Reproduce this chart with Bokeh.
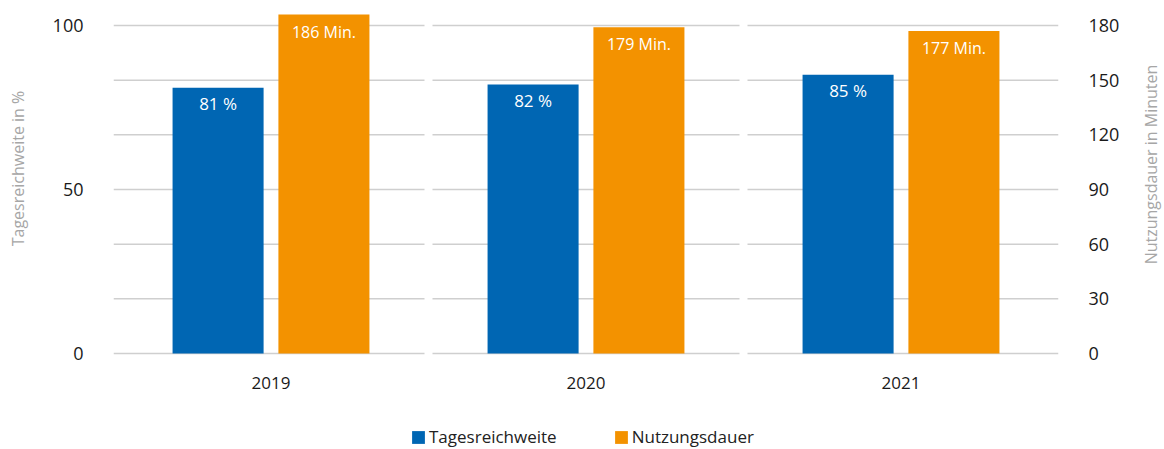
import math
from bokeh.plotting import figure
from bokeh.layouts import column, row
from bokeh.models import (Range1d, LinearAxis, FixedTicker, ColumnDataSource,
                          Legend, LegendItem, FactorRange)
from bokeh.transform import dodge
from bokeh.core.properties import value
from bokeh.embed import file_html
from bokeh.resources import INLINE

# ---- data ----
years = ["2019", "2020", "2021"]
reach = [81, 82, 85]            # Tagesreichweite in %
duration = [186, 179, 177]      # Nutzungsdauer in Minuten
left_ticks = [0, 50, 100]
right_ticks = [0, 30, 60, 90, 120, 150, 180]
left_title = "Tagesreichweite in %"
right_title = "Nutzungsdauer in Minuten"
series_names = ["Tagesreichweite", "Nutzungsdauer"]

FONT = "Open Sans"
BLUE = "#0066B3"
ORANGE = "#F39200"
GRID = "#cfcfcf"
TITLE_C = "#a6a6a6"

pct_lo, pct_hi = -0.915, 104.57
ratio = 1.8  # 100 % <-> 180 Min.

TOTAL_W = 1164
LW, RW = 32, 24
MW = TOTAL_W - LW - RW
MH, LH = 410, 39
BT, BB = 10, 54
FH = MH - BT - BB

p = figure(width=MW, height=MH,
           x_range=FactorRange(*years),
           y_range=Range1d(pct_lo, pct_hi),
           output_backend="svg", toolbar_location=None,
           min_border_left=81, min_border_right=82,
           min_border_top=BT, min_border_bottom=BB)
p.extra_y_ranges = {"min": Range1d(pct_lo * ratio, pct_hi * ratio)}
p.outline_line_color = None
p.xgrid.visible = False
p.ygrid.visible = False

# gridlines, broken at category boundaries
n = len(years)
g = 4 / 315
gx0, gx1, gy = [], [], []
for t in right_ticks:
    for i in range(n):
        gx0.append(i + (0 if i == 0 else g))
        gx1.append(i + 1 - (0 if i == n - 1 else g))
        gy.append(t)
p.segment(x0=gx0, y0=gy, x1=gx1, y1=gy, y_range_name="min",
          line_color=GRID, line_width=1.5)

src = ColumnDataSource(dict(
    year=years, reach=reach, duration=duration,
    reach_lbl=[f"{v} %" for v in reach],
    dur_lbl=[f"{v} Min." for v in duration],
))

off_b, off_o, w = -0.168, 0.168, 0.289
b1 = p.vbar(x=dodge("year", off_b, range=p.x_range), top="reach", width=w,
            source=src, fill_color=BLUE, line_color=None)
b2 = p.vbar(x=dodge("year", off_o, range=p.x_range), top="duration", width=w,
            source=src, fill_color=ORANGE, line_color=None, y_range_name="min")

p.text(x=dodge("year", off_b, range=p.x_range), y="reach", text="reach_lbl",
       source=src, text_align="center", text_baseline="middle", y_offset=16,
       text_color="white", text_font=value(FONT), text_font_size="17px")
p.text(x=dodge("year", off_o, range=p.x_range), y="duration", text="dur_lbl",
       source=src, text_align="center", text_baseline="middle", y_offset=17,
       text_color="white", text_font=value(FONT), text_font_size="16px",
       y_range_name="min")

def style_axis(ax, size):
    ax.axis_line_color = None
    ax.major_tick_line_color = None
    ax.minor_tick_line_color = None
    ax.major_label_text_font = FONT
    ax.major_label_text_font_size = size
    ax.major_label_text_color = "#1a1a1a"

yl = p.yaxis[0]
yl.ticker = FixedTicker(ticks=left_ticks)
style_axis(yl, "18px")
yl.major_label_standoff = 24

yr = LinearAxis(y_range_name="min", ticker=FixedTicker(ticks=right_ticks))
style_axis(yr, "18px")
yr.major_label_standoff = 24
p.add_layout(yr, "right")

xa = p.xaxis[0]
style_axis(xa, "17px")
xa.major_label_standoff = 14

# ---- side strips holding the rotated axis titles ----
def strip(width, title, x, y):
    s = figure(width=width, height=MH, x_range=Range1d(0, width),
               y_range=Range1d(0, FH), output_backend="svg",
               toolbar_location=None, x_axis_location=None,
               y_axis_location=None, min_border_left=0, min_border_right=0,
               min_border_top=BT, min_border_bottom=BB)
    s.outline_line_color = None
    s.xgrid.visible = False
    s.ygrid.visible = False
    s.text(x=[x], y=[y], text=[title], angle=math.pi / 2,
           text_align="center", text_baseline="middle",
           text_color=TITLE_C, text_font=value(FONT), text_font_size="16px")
    return s

ls = strip(LW, left_title, 17, 188)
rs = strip(RW, right_title, 10, 192)

# ---- legend strip ----
lf = figure(width=TOTAL_W, height=LH, x_range=Range1d(0, TOTAL_W),
            y_range=Range1d(0, LH), output_backend="svg",
            toolbar_location=None, x_axis_location=None,
            y_axis_location=None, min_border=0)
lf.outline_line_color = None
lf.xgrid.visible = False
lf.ygrid.visible = False
# zero-size placeholders that only supply the legend swatches
r1 = lf.vbar(x=[0], top=[0], width=0, fill_color=BLUE, line_color=None)
r2 = lf.vbar(x=[0], top=[0], width=0, fill_color=ORANGE, line_color=None)
legend = Legend(items=[LegendItem(label=series_names[0], renderers=[r1]),
                       LegendItem(label=series_names[1], renderers=[r2])],
                orientation="horizontal", location=(410, 1),
                glyph_width=16, glyph_height=16, label_standoff=3,
                label_height=16, spacing=56, padding=0, margin=0,
                background_fill_alpha=0, border_line_color=None,
                label_text_font=FONT, label_text_font_size="17px",
                label_text_color="#222222")
lf.add_layout(legend)

layout = column(row(ls, p, rs), lf)
open("out.html", "w").write(file_html(layout, INLINE))
